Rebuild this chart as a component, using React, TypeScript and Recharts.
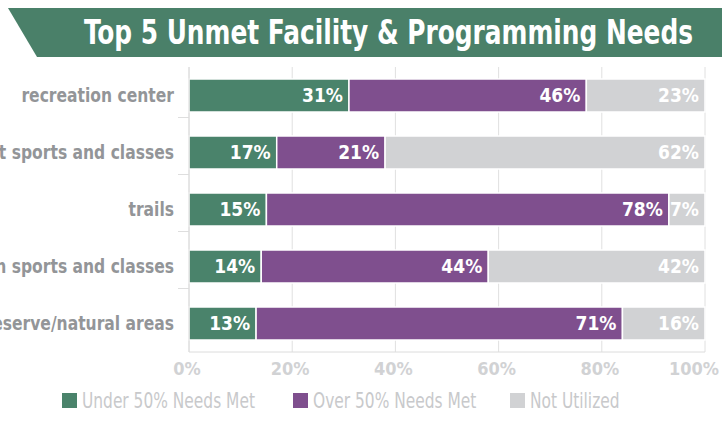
import React from 'react';
import { BarChart, Bar, XAxis, YAxis, CartesianGrid, LabelList } from 'recharts';

const categories = [
  'recreation center',
  'Adult sports and classes',
  'trails',
  'Youth sports and classes',
  'Nature preserve/natural areas',
];
const under50 = [31, 17, 15, 14, 13];
const over50 = [46, 21, 78, 44, 71];
const notUtilized = [23, 62, 7, 42, 16];
const xTicks = [0, 20, 40, 60, 80, 100];

const seriesConfig = [
  { key: 'under', name: 'Under 50% Needs Met', color: '#4a836b' },
  { key: 'over', name: 'Over 50% Needs Met', color: '#7f4f8e' },
  { key: 'notUsed', name: 'Not Utilized', color: '#d1d2d4' },
];

const data = categories.map((name, i) => ({
  name,
  under: under50[i],
  over: over50[i],
  notUsed: notUtilized[i],
}));

const FONT = '"DejaVu Sans Condensed", "Liberation Sans Narrow", sans-serif';

// category label plus the small tick that sits below each row
const CategoryTick = (props: any) => {
  const { x, y, payload, index } = props;
  return (
    <g transform={`translate(${x},${y}) scale(0.91,1)`}>
      <text
        x={0}
        y={0}
        dy={6.5}
        textAnchor="end"
        fill="#939598"
        fontSize={19}
        fontWeight="bold"
        fontFamily={FONT}
      >
        {payload.value}
      </text>
      {index < categories.length - 1 && (
        <line x1={4 / 0.91} x2={15 / 0.91} y1={22} y2={22} stroke="#dcdcdc" strokeWidth={1} />
      )}
    </g>
  );
};

const PercentTick = (props: any) => {
  const { x, y, payload, index } = props;
  const last = index === xTicks.length - 1;
  return (
    <text
      x={last ? x + 14 : x - 2}
      y={y}
      dy={13}
      textAnchor={last ? 'end' : 'middle'}
      fill="#d1d2d4"
      fontSize={18}
      fontWeight="bold"
      fontFamily={FONT}
    >
      {`${payload.value}%`}
    </text>
  );
};

const pct = (v: any) => `${v}%`;
const legendX = [62, 293, 510];

export default function App() {
  return (
    <div style={{ position: 'fixed', left: 0, top: 0, width: 728, height: 423, background: '#fff', fontFamily: FONT }}>
      <svg width={728} height={60} style={{ position: 'absolute', left: 0, top: 0 }}>
        <polygon points="8,8 722,8 722,57 37,57" fill="#4a8069" />
        <text
          x={84}
          y={44}
          fill="#fff"
          fontSize={33}
          fontWeight="bold"
          fontFamily={FONT}
          textLength={609}
          lengthAdjust="spacingAndGlyphs"
        >
          Top 5 Unmet Facility &amp; Programming Needs
        </text>
      </svg>
      <div style={{ position: 'absolute', left: 0, top: 0 }}>
        <BarChart
          width={728}
          height={423}
          data={data}
          layout="vertical"
          margin={{ top: 67, right: 23, left: 0, bottom: 41 }}
          barSize={33}
        >
          <CartesianGrid horizontal={false} stroke="#e0e0e0" />
          <XAxis
            type="number"
            domain={[0, 100]}
            ticks={xTicks}
            axisLine={{ stroke: '#dcdcdc' }}
            tickLine={false}
            height={30}
            tick={(p: any) => <PercentTick {...p} />}
            tickMargin={4}
          />
          <YAxis
            type="category"
            dataKey="name"
            width={189}
            axisLine={{ stroke: '#dcdcdc' }}
            tickLine={false}
            tickSize={0}
            tickMargin={15}
            tick={(p: any) => <CategoryTick {...p} />}
            interval={0}
          />
          {seriesConfig.map((s) => (
            <Bar
              key={s.key}
              dataKey={s.key}
              name={s.name}
              stackId="a"
              fill={s.color}
              stroke="#fff"
              strokeWidth={1.5}
              isAnimationActive={false}
            >
              <LabelList
                dataKey={s.key}
                position="insideRight"
                offset={6}
                formatter={pct}
                fill="#fff"
                fontSize={19}
                fontWeight="bold"
                fontFamily={FONT}
              />
            </Bar>
          ))}
        </BarChart>
      </div>
      <svg width={728} height={40} style={{ position: 'absolute', left: 0, top: 383 }}>
        {seriesConfig.map((s, i) => (
          <g key={s.key} transform={`translate(${legendX[i]},0)`}>
            <rect x={0} y={10} width={15} height={15} fill={s.color} />
            <text
              x={0}
              y={25}
              transform="translate(20,0) scale(0.78,1)"
              fill="#c8c9cb"
              fontSize={22}
              fontFamily={FONT}
            >
              {s.name}
            </text>
          </g>
        ))}
      </svg>
    </div>
  );
}
